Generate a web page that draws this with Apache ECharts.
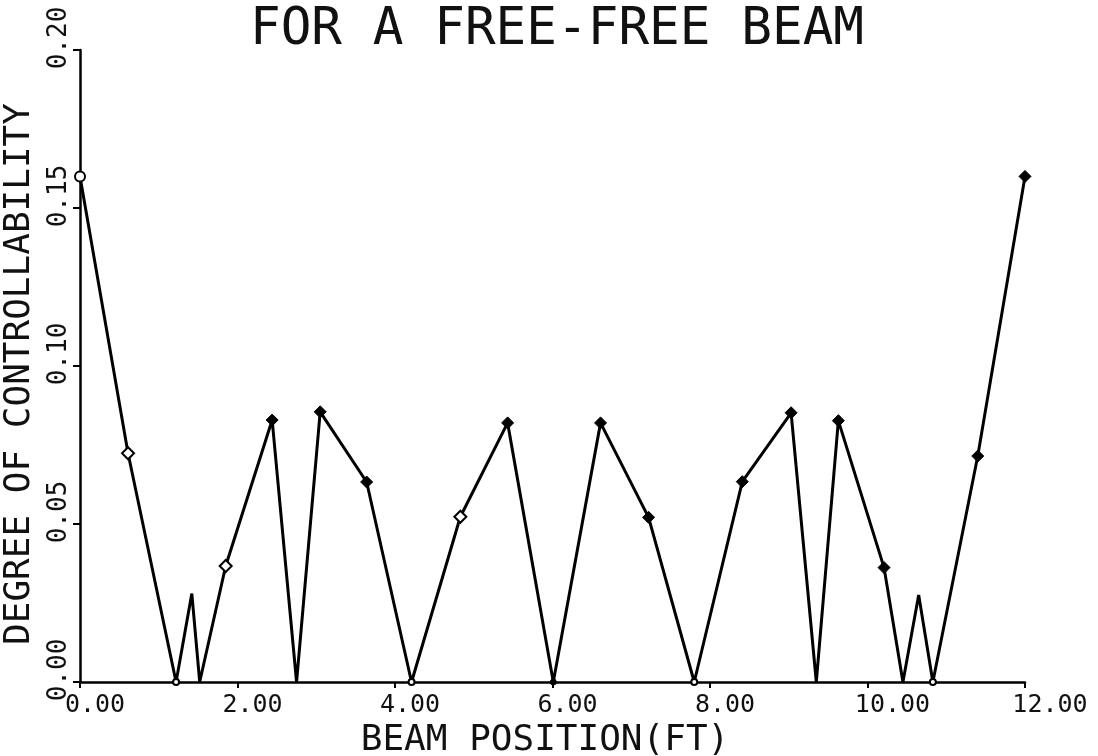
<!DOCTYPE html>
<html>
<head>
<meta charset="utf-8">
<script src="https://cdn.jsdelivr.net/npm/echarts@6/dist/echarts.min.js"></script>
<style>
  html, body { margin: 0; padding: 0; background: #fff; }
  #beamChart { width: 1098px; height: 756px; }
</style>
</head>
<body>
<div id="beamChart"></div>
<script>
// beam position (ft) and degree of controllability
const positions = [0, 0.61, 1.22, 1.42, 1.52, 1.85, 2.44, 2.75, 3.05, 3.64, 4.21, 4.83, 5.43, 6.01,
  6.61, 7.22, 7.80, 8.41, 9.03, 9.35, 9.63, 10.21, 10.45, 10.65, 10.83, 11.40, 12.0];
const controllability = [0.160, 0.0724, 0, 0.028, 0, 0.0367, 0.0829, 0, 0.0855, 0.0633, 0, 0.0523, 0.082, 0,
  0.082, 0.0521, 0, 0.0634, 0.0852, 0, 0.0827, 0.0362, 0, 0.0275, 0, 0.0715, 0.160];
const xTicks = [0, 2, 4, 6, 8, 10, 12];
const yTicks = [0, 0.05, 0.10, 0.15, 0.20];

// marker styling (index into the arrays above)
const noMarker = [3, 4, 7, 19, 22, 23];
const openMarker = [0, 1, 2, 5, 10, 11, 16, 24];
const circleMarker = [0, 2, 10, 13, 16, 24];
const smallMarker = [2, 10, 13, 16, 24];

const mono = "'DejaVu Sans Mono', 'Liberation Mono', monospace";

let seriesData = [];
for (let i = 0; i < positions.length; i++) {
  let item = { value: [positions[i], controllability[i]] };
  if (noMarker.indexOf(i) >= 0) {
    item.symbolSize = 0;
  } else {
    let small = smallMarker.indexOf(i) >= 0;
    let open = openMarker.indexOf(i) >= 0;
    item.symbol = circleMarker.indexOf(i) >= 0 ? 'circle' : 'diamond';
    item.symbolSize = small ? 6 : (item.symbol === 'circle' ? 10 : 12);
    item.itemStyle = {
      color: open ? '#fff' : '#000',
      borderColor: '#000',
      borderWidth: open ? 2 : 1
    };
  }
  seriesData.push(item);
}

let chart = echarts.init(document.getElementById('beamChart'));
chart.setOption({
  animation: false,
  backgroundColor: '#fff',
  title: {
    text: 'FOR A FREE-FREE BEAM',
    left: 552,
    top: 0,
    textAlign: 'center',
    textStyle: { fontFamily: mono, fontSize: 51, fontWeight: 'normal', color: '#111' }
  },
  grid: { left: 80, right: 73, top: 50, bottom: 74, containLabel: false, outerBoundsMode: 'none' },
  xAxis: {
    type: 'value',
    min: 0,
    max: 12,
    interval: 2,
    name: 'BEAM POSITION(FT)',
    nameLocation: 'middle',
    nameGap: 31,
    nameTextStyle: { fontFamily: mono, fontSize: 36, color: '#111', padding: [0, 15, 0, 0] },
    axisLine: { lineStyle: { color: '#000', width: 2.5 } },
    axisTick: { show: true, length: 6, lineStyle: { color: '#000', width: 2 } },
    splitLine: { show: false },
    axisLabel: {
      margin: 11,
      color: '#111',
      fontFamily: mono,
      fontSize: 25,
      formatter: function (v) {
        let s = v.toFixed(2);
        return s.length > 4 ? '{b|' + s + '}' : '{a|' + s + '}';
      },
      rich: {
        a: { fontFamily: mono, fontSize: 25, color: '#111', padding: [0, 0, 0, 30] },
        b: { fontFamily: mono, fontSize: 25, color: '#111', padding: [0, 0, 0, 50] }
      }
    }
  },
  yAxis: {
    type: 'value',
    min: 0,
    max: 0.2,
    interval: 0.05,
    name: 'DEGREE OF CONTROLLABILITY',
    nameLocation: 'middle',
    nameRotate: 90,
    nameGap: 25,
    nameTextStyle: { fontFamily: mono, fontSize: 36, color: '#111', padding: [0, 16, 0, 0] },
    axisLine: { show: true, lineStyle: { color: '#000', width: 2.5 } },
    axisTick: { show: true, length: 7, lineStyle: { color: '#000', width: 2 } },
    splitLine: { show: false },
    axisLabel: {
      rotate: 90,
      margin: 8,
      color: '#111',
      fontFamily: mono,
      fontSize: 26,
      formatter: function (v) {
        return '{a|' + v.toFixed(2) + '}';
      },
      rich: {
        a: { fontFamily: mono, fontSize: 26, color: '#111', padding: [0, 0, 0, 24] }
      }
    }
  },
  series: [
    {
      type: 'line',
      data: seriesData,
      lineStyle: { color: '#000', width: 3 },
      itemStyle: { color: '#000' },
      showSymbol: true,
      showAllSymbol: true,
      z: 3
    }
  ]
});
</script>
</body>
</html>
